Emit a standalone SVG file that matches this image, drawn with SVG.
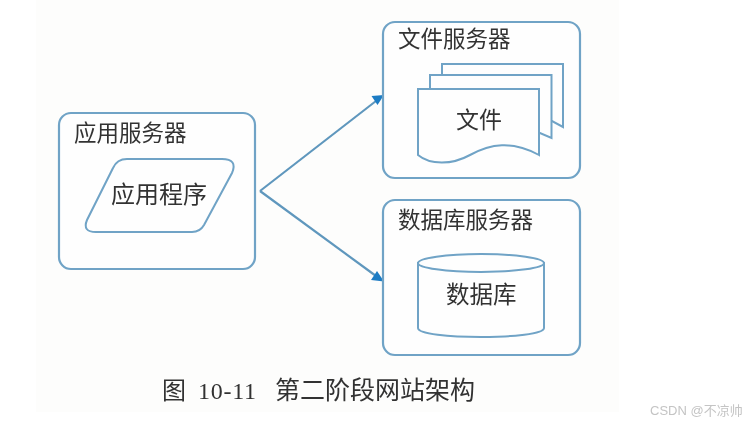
<svg xmlns="http://www.w3.org/2000/svg" width="754" height="423" viewBox="0 0 754 423">
<defs><filter id="soft" filterUnits="userSpaceOnUse" x="0" y="0" width="754" height="423"><feGaussianBlur stdDeviation="0.45"/></filter></defs>
<style>
.box{fill:#fefefe;stroke:#6fa3c6;stroke-width:2.2}
.shape{fill:#fefefe;stroke:#6fa3c6;stroke-width:2}
.t{font-family:"Noto Sans CJK SC","Liberation Sans",sans-serif;fill:#333333;font-size:22.5px}
.line{fill:none;stroke:#5f97bd;stroke-width:2.2}
.head{fill:#1f7cc4}
</style>
<rect width="754" height="423" fill="#ffffff"/>
<rect x="36" y="0" width="583" height="412" fill="#fdfdfc"/>
<g filter="url(#soft)">
<g id="connectors">
<path class="line" d="M260 191L376 101"/>
<path class="line" d="M260 191L376 276"/>
<path class="head" d="M384 95L371.500 96L377.500 105Z"/>
<path class="head" d="M384 281.500L371 280L377 271Z"/>
</g>
<g id="app-server">
<rect class="box" x="59" y="113" width="196" height="156" rx="12"/>
<text class="t" x="74" y="141">应用服务器</text>
</g>
<g id="app">
<path class="shape" d="M127 159H222Q238 159 232 173L204 225Q200 232 192 232H96Q82 232 87 220L113 168Q117 159 127 159Z"/>
<text class="t" x="111" y="203" style="font-size:24px">应用程序</text>
</g>
<g id="file-server">
<rect class="box" x="383" y="22" width="197" height="156" rx="12"/>
<text class="t" x="398" y="47">文件服务器</text>
</g>
<g id="file">
<path class="shape" d="M442 64H563V127L552 121H442Z"/>
<path class="shape" d="M430 75H551.500V138L540 133H430Z"/>
<path class="shape" d="M418 89H539V155C512 140 490 144 470 155C452 165 430 165 418 155Z"/>
<text class="t" x="456" y="128" style="font-size:23px">文件</text>
</g>
<g id="db-server">
<rect class="box" x="383" y="200" width="197" height="155" rx="12"/>
<text class="t" x="398" y="228">数据库服务器</text>
</g>
<g id="db">
<path class="shape" d="M418 263V328C418 340 544 340 544 328V263Z"/>
<ellipse class="shape" cx="481" cy="263" rx="63" ry="9"/>
<text class="t" x="446" y="303" style="font-size:23.500px">数据库</text>
</g>
<text x="162" y="399" font-family="Noto Sans CJK SC,serif" font-size="24" fill="#333333">图</text>
<text x="198" y="399" font-family="Liberation Serif,serif" font-size="24" fill="#333333" textLength="58">10-11</text>
<text class="t" x="275" y="399" style="font-size:25px">第二阶段网站架构</text>
<text x="650" y="415" font-family="Liberation Sans,Noto Sans CJK SC,sans-serif" font-size="13" fill="#c4c4c4">CSDN @不凉帅</text>
</g>
</svg>
